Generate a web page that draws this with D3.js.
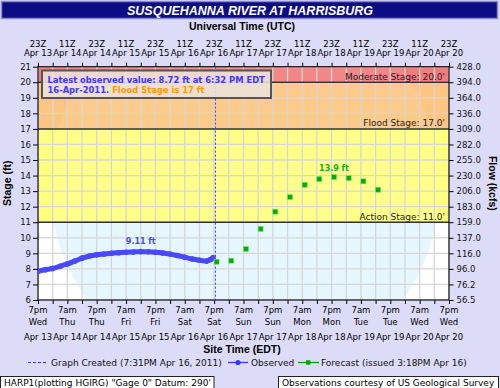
<!DOCTYPE html>
<html>
<head>
<meta charset="utf-8">
<script src="https://cdn.jsdelivr.net/npm/d3@7"></script>
<style>
  html, body { margin: 0; padding: 0; background: #dcdcf8; }
  svg { display: block; }
</style>
</head>
<body>
<svg id="hydrograph" width="500" height="388"></svg>
<script>
// observed stage (ft), times are EDT clock
const obsTimes = [
    "2011-04-13 19:00", "2011-04-13 22:00",
    "2011-04-14 01:00", "2011-04-14 04:00", "2011-04-14 07:00", "2011-04-14 10:00",
    "2011-04-14 13:00", "2011-04-14 16:00", "2011-04-14 19:00", "2011-04-14 22:00",
    "2011-04-15 01:00", "2011-04-15 04:00", "2011-04-15 07:00", "2011-04-15 10:00",
    "2011-04-15 13:00", "2011-04-15 16:00", "2011-04-15 19:00", "2011-04-15 22:00",
    "2011-04-16 01:00", "2011-04-16 04:00", "2011-04-16 07:00", "2011-04-16 10:00",
    "2011-04-16 13:00", "2011-04-16 16:00", "2011-04-16 17:30", "2011-04-16 18:32"
];
const obsStage = [
    7.85, 7.95,
    8.03, 8.17, 8.32, 8.50, 8.69, 8.83, 8.91, 8.96,
    9.01, 9.04, 9.07, 9.09, 9.11, 9.10, 9.07, 9.02,
    8.95, 8.86, 8.75, 8.64, 8.56, 8.50, 8.60, 8.72
];

// forecast stage (ft)
const fcstTimes = [
    "2011-04-16 20:00", "2011-04-17 02:00", "2011-04-17 08:00", "2011-04-17 14:00",
    "2011-04-17 20:00", "2011-04-18 02:00", "2011-04-18 08:00", "2011-04-18 14:00",
    "2011-04-18 20:00", "2011-04-19 02:00", "2011-04-19 08:00", "2011-04-19 14:00"
];
const fcstStage = [8.46, 8.53, 9.28, 10.57, 11.68, 12.62, 13.41, 13.78, 13.9, 13.84, 13.63, 13.09];

// axis ticks
const stageTicks = [6, 7, 8, 9, 10, 11, 12, 13, 14, 15, 16, 17, 18, 19, 20, 21];
const flowLabels = ["56.5", "76.2", "96.0", "116.0", "137.0", "159.0", "183.0", "206.0",
    "230.0", "255.0", "282.0", "309.0", "336.0", "364.0", "394.0", "428.0"];
const utcHours = ["23Z", "11Z", "23Z", "11Z", "23Z", "11Z", "23Z", "11Z",
    "23Z", "11Z", "23Z", "11Z", "23Z", "11Z", "23Z"];
const tickDates = ["Apr 13", "Apr 14", "Apr 14", "Apr 15", "Apr 15", "Apr 16", "Apr 16", "Apr 17",
    "Apr 17", "Apr 18", "Apr 18", "Apr 19", "Apr 19", "Apr 20", "Apr 20"];
const siteHours = ["7pm", "7am", "7pm", "7am", "7pm", "7am", "7pm", "7am",
    "7pm", "7am", "7pm", "7am", "7pm", "7am", "7pm"];
const siteDays = ["Wed", "Thu", "Thu", "Fri", "Fri", "Sat", "Sat", "Sun",
    "Sun", "Mon", "Mon", "Tue", "Tue", "Wed", "Wed"];

// flood categories
const stageLevels = [11, 17, 20];
const stageNames = ["Action Stage", "Flood Stage", "Moderate Stage"];

const startTime = "2011-04-13 19:00";
const endTime = "2011-04-20 19:00";
const createdTime = "2011-04-16 19:31";

const parseTime = d3.utcParse("%Y-%m-%d %H:%M");
const tickFont = "DejaVu Sans, Verdana, sans-serif";
const titleFont = "Liberation Sans, Arial, sans-serif";

const plot = { left: 38, right: 449, top: 66.7, bottom: 300 };
const svg = d3.select("#hydrograph");

const x = d3.scaleUtc()
    .domain([parseTime(startTime), parseTime(endTime)])
    .range([plot.left, plot.right]);
const y = d3.scaleLinear()
    .domain([6, 21])
    .range([plot.bottom, plot.top]);

const t0 = parseTime(startTime);
const majorTimes = d3.range(15).map(i => d3.utcHour.offset(t0, 12 * i));
const minorTimes = d3.range(29).map(i => d3.utcHour.offset(t0, 6 * i));

drawHeader();
drawBackground();
drawAxes();
drawSeries();
drawLegend();

function drawHeader() {
    // 标题栏
    svg.append("rect")
        .attr("x", 1.5).attr("y", 1.5).attr("width", 496).attr("height", 17)
        .attr("fill", "#0c0c84")
        .attr("stroke", "#8a8ac8").attr("stroke-width", 1.5);
    svg.append("text")
        .attr("x", 250).attr("y", 15)
        .attr("text-anchor", "middle")
        .attr("fill", "#fff")
        .style("font", "italic bold 12.5px " + titleFont)
        .text("SUSQUEHANNA RIVER AT HARRISBURG");
    svg.append("text")
        .attr("x", 242).attr("y", 29.5)
        .attr("text-anchor", "middle")
        .style("font", "bold 10.5px " + titleFont)
        .text("Universal Time (UTC)");
}

function drawBackground() {
    svg.append("clipPath").attr("id", "plotClip")
        .append("rect")
        .attr("x", plot.left).attr("y", plot.top)
        .attr("width", plot.right - plot.left).attr("height", plot.bottom - plot.top);

    const g = svg.append("g").attr("clip-path", "url(#plotClip)");

    g.append("rect")
        .attr("x", plot.left).attr("y", plot.top)
        .attr("width", plot.right - plot.left).attr("height", plot.bottom - plot.top)
        .attr("fill", "#ffffff");

    // watermark (faint logo circle)
    g.append("circle")
        .attr("cx", 245).attr("cy", 185).attr("r", 195)
        .attr("fill", "#e4f6ff");

    // stage bands
    const bandColors = ["#ffff80", "#fcc682", "#f27c7c"];
    const tops = [stageLevels[1], stageLevels[2], 21];
    stageLevels.forEach((lvl, i) => {
        g.append("rect")
            .attr("x", plot.left).attr("y", y(tops[i]))
            .attr("width", plot.right - plot.left)
            .attr("height", y(lvl) - y(tops[i]))
            .attr("fill", bandColors[i]);
    });
    g.append("circle")
        .attr("cx", 245).attr("cy", 185).attr("r", 195)
        .attr("fill", "#ffffff").attr("opacity", 0.08);

    // grid
    g.selectAll(".vgrid").data(minorTimes).enter().append("line")
        .attr("x1", d => x(d)).attr("x2", d => x(d))
        .attr("y1", plot.top).attr("y2", plot.bottom)
        .attr("stroke", "#d6d6d6").attr("stroke-width", 1.3);
    g.selectAll(".hgrid").data(stageTicks).enter().append("line")
        .attr("x1", plot.left).attr("x2", plot.right)
        .attr("y1", d => y(d)).attr("y2", d => y(d))
        .attr("stroke", "#d6d6d6").attr("stroke-width", 1.3);

    // threshold lines + labels
    stageLevels.forEach((lvl, i) => {
        g.append("line")
            .attr("x1", plot.left).attr("x2", plot.right)
            .attr("y1", y(lvl)).attr("y2", y(lvl))
            .attr("stroke", "#333").attr("stroke-width", 1.5);
        svg.append("text")
            .attr("x", 445).attr("y", y(lvl) - 2.5)
            .attr("text-anchor", "end")
            .attr("fill", "#222")
            .style("font", "9px " + tickFont)
            .text(`${stageNames[i]}: ${lvl.toFixed(1)}'`);
    });
}

function drawAxes() {
    // 左轴 stage
    const left = svg.append("g")
        .attr("transform", `translate(${plot.left},0)`)
        .call(d3.axisLeft(y).tickValues(stageTicks).tickSize(5).tickPadding(2));
    // 右轴 flow
    const right = svg.append("g")
        .attr("transform", `translate(${plot.right},0)`)
        .call(d3.axisRight(y).tickValues(stageTicks).tickSize(4.5).tickPadding(3)
            .tickFormat((d, i) => flowLabels[i]));
    [left, right].forEach(a => {
        a.selectAll("text").style("font", "8.5px " + tickFont).attr("fill", "#111");
        a.select(".domain").remove();
    });

    // time axes: tick marks every 6h
    svg.append("g")
        .attr("transform", `translate(0,${plot.top})`)
        .call(d3.axisTop(x).tickValues(minorTimes).tickSize(4).tickFormat(""))
        .select(".domain").remove();
    svg.append("g")
        .attr("transform", `translate(0,${plot.bottom})`)
        .call(d3.axisBottom(x).tickValues(minorTimes).tickSize(4).tickFormat(""))
        .select(".domain").remove();

    // plot frame
    svg.append("rect")
        .attr("x", plot.left).attr("y", plot.top)
        .attr("width", plot.right - plot.left).attr("height", plot.bottom - plot.top)
        .attr("fill", "none").attr("stroke", "#111").attr("stroke-width", 1.2);

    // top labels (UTC)
    const top = svg.append("g").style("font", "8.5px " + tickFont).attr("text-anchor", "middle");
    top.selectAll(".utcH").data(majorTimes).enter().append("text")
        .attr("x", d => x(d)).attr("y", 46.5).text((d, i) => utcHours[i]);
    top.selectAll(".utcD").data(majorTimes).enter().append("text")
        .attr("x", d => x(d)).attr("y", 56).text((d, i) => tickDates[i]);

    // bottom labels (EDT)
    const bot = svg.append("g").style("font", "8.5px " + tickFont).attr("text-anchor", "middle");
    bot.selectAll(".siteH").data(majorTimes).enter().append("text")
        .attr("x", d => x(d)).attr("y", 312.5).text((d, i) => siteHours[i]);
    bot.selectAll(".siteW").data(majorTimes).enter().append("text")
        .attr("x", d => x(d)).attr("y", 324.5).text((d, i) => siteDays[i]);
    bot.selectAll(".siteD").data(majorTimes).enter().append("text")
        .attr("x", d => x(d)).attr("y", 339.5).text((d, i) => tickDates[i]);

    svg.append("text")
        .attr("x", 242).attr("y", 353)
        .attr("text-anchor", "middle")
        .style("font", "bold 10.5px " + titleFont)
        .text("Site Time (EDT)");

    // axis titles
    svg.append("text")
        .attr("transform", `translate(11,${(plot.top + plot.bottom) / 2}) rotate(-90)`)
        .attr("text-anchor", "middle")
        .style("font", "bold 10.5px " + titleFont)
        .text("Stage (ft)");
    svg.append("text")
        .attr("transform", `translate(489,${(plot.top + plot.bottom) / 2}) rotate(90)`)
        .attr("text-anchor", "middle")
        .style("font", "bold 10.5px " + titleFont)
        .text("Flow (kcfs)");
}

function drawSeries() {
    const g = svg.append("g").attr("clip-path", "url(#plotClip)");
    const obs = obsTimes.map((t, i) => ({ t: parseTime(t), v: obsStage[i] }));
    const fcst = fcstTimes.map((t, i) => ({ t: parseTime(t), v: fcstStage[i] }));
    const obsColor = "#4848ff";

    // graph created line
    g.append("line")
        .attr("x1", x(parseTime(createdTime))).attr("x2", x(parseTime(createdTime)))
        .attr("y1", plot.top).attr("y2", plot.bottom)
        .attr("stroke", "#3838ff").attr("stroke-width", 1)
        .attr("stroke-dasharray", "2,2");

    // observed: thick line of markers
    const line = d3.line().x(d => x(d.t)).y(d => y(d.v)).curve(d3.curveMonotoneX);
    g.append("path")
        .datum(obs)
        .attr("fill", "none")
        .attr("stroke", obsColor)
        .attr("stroke-width", 5)
        .attr("stroke-linecap", "round")
        .attr("d", line);
    g.selectAll(".obsPt").data(obs).enter().append("circle")
        .attr("cx", d => x(d.t)).attr("cy", d => y(d.v))
        .attr("r", 2.8).attr("fill", obsColor);

    // forecast squares
    g.selectAll(".fcstPt").data(fcst).enter().append("rect")
        .attr("x", d => x(d.t) - 2.5).attr("y", d => y(d.v) - 2.5)
        .attr("width", 5).attr("height", 5)
        .attr("fill", "#00b000").attr("stroke", "#80d880").attr("stroke-width", 0.6);

    // crest labels
    const obsMax = obs.reduce((a, b) => (b.v > a.v ? b : a));
    svg.append("text")
        .attr("x", x(obsMax.t)).attr("y", y(obsMax.v) - 8)
        .attr("text-anchor", "middle").attr("fill", "#4848ff")
        .style("font", "bold 8px " + tickFont)
        .text(obsMax.v.toFixed(2) + " ft");
    const fcstMax = fcst.reduce((a, b) => (b.v > a.v ? b : a));
    svg.append("text")
        .attr("x", x(fcstMax.t)).attr("y", y(fcstMax.v) - 6)
        .attr("text-anchor", "middle").attr("fill", "#22aa22")
        .style("font", "bold 8px " + tickFont)
        .text(fcstMax.v.toFixed(1) + " ft");

    // info box
    svg.append("rect")
        .attr("x", 42).attr("y", 70.5).attr("width", 229).attr("height", 27.5)
        .attr("fill", "#ece2da").attr("fill-opacity", 0.88)
        .attr("stroke", "#555").attr("stroke-width", 2);
    svg.append("text")
        .attr("x", 47.5).attr("y", 83)
        .attr("fill", "#3a3aff")
        .style("font", "bold 8.4px " + tickFont)
        .text("Latest observed value: 8.72 ft at 6:32 PM EDT");
    const l2 = svg.append("text")
        .attr("x", 47.5).attr("y", 92.8)
        .style("font", "bold 8.4px " + tickFont);
    l2.append("tspan").attr("fill", "#3a3aff").text("16-Apr-2011.");
    l2.append("tspan").attr("fill", "#ff9900").text(" Flood Stage is 17 ft");
}

function drawLegend() {
    const g = svg.append("g").style("font", "9px " + tickFont).attr("fill", "#111");
    const ly = 362.5;
    g.append("line").attr("x1", 28).attr("x2", 48).attr("y1", ly).attr("y2", ly)
        .attr("stroke", "#3838ff").attr("stroke-dasharray", "3,2");
    g.append("text").attr("x", 51).attr("y", 365.5).text("Graph Created (7:31PM Apr 16, 2011)");
    g.append("line").attr("x1", 228).attr("x2", 248).attr("y1", ly).attr("y2", ly)
        .attr("stroke", "#3838ff").attr("stroke-width", 1.3);
    g.append("circle").attr("cx", 238).attr("cy", ly).attr("r", 2.6).attr("fill", "#3838ff");
    g.append("text").attr("x", 251).attr("y", 365.5).text("Observed");
    g.append("line").attr("x1", 298).attr("x2", 319).attr("y1", ly).attr("y2", ly)
        .attr("stroke", "#00a000").attr("stroke-width", 1.3);
    g.append("rect").attr("x", 306).attr("y", ly - 2.2).attr("width", 4.4).attr("height", 4.4).attr("fill", "#00a000");
    g.append("text").attr("x", 321).attr("y", 365.5).text("Forecast (issued 3:18PM Apr 16)");

    // footer boxes
    svg.append("rect").attr("x", 0.5).attr("y", 376.5).attr("width", 213.5).attr("height", 14)
        .attr("fill", "#fff").attr("stroke", "#222");
    svg.append("text").attr("x", 4).attr("y", 385.5)
        .style("font", "9px " + tickFont)
        .text("HARP1(plotting HGIRG) \"Gage 0\" Datum: 290'");
    svg.append("rect").attr("x", 278.5).attr("y", 376.5).attr("width", 220).attr("height", 14)
        .attr("fill", "#fff").attr("stroke", "#222");
    svg.append("text").attr("x", 282).attr("y", 385.5)
        .style("font", "9px " + tickFont)
        .text("Observations courtesy of US Geological Survey");
}
</script>
</body>
</html>
